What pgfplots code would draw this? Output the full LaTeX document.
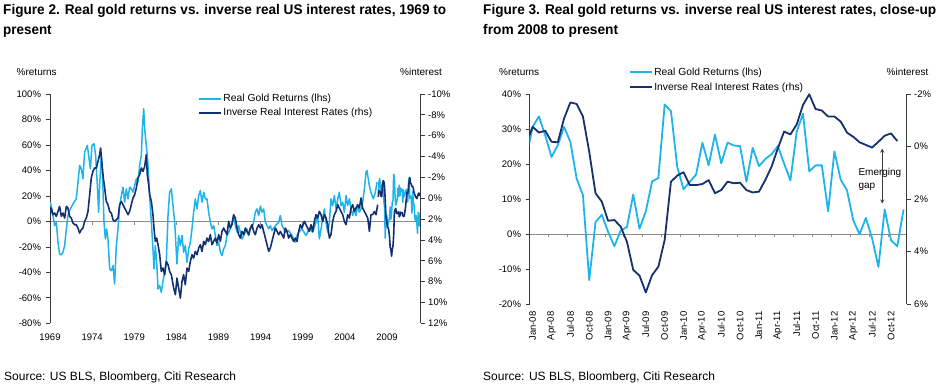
\documentclass[border=0pt]{standalone}
\usepackage{pgfplots}
\pgfplotsset{compat=1.18}
\usepackage{pgfplotstable}
\usepackage{fontspec}
\usepackage{graphicx}
\setmainfont{Liberation Sans}

\definecolor{goldc}{HTML}{1EB4EB}
\definecolor{ratec}{HTML}{15306E}
\definecolor{axgray}{HTML}{3A3A3A}
\definecolor{zerogray}{HTML}{8C8C8C}

% Real gold returns (%), 1969-2007 (lhs)
\pgfplotstableread{
year gold
1969.00 15.0
1969.08 13.8
1969.35 4.6
1969.55 -3.3
1969.75 -0.7
1969.95 -16.4
1970.14 -25.5
1970.34 -26.3
1970.54 -24.2
1970.74 -19.0
1970.94 -5.9
1971.13 4.6
1971.33 8.5
1971.73 13.8
1972.12 17.7
1972.32 30.8
1972.52 43.9
1972.72 41.3
1972.91 33.4
1973.11 54.4
1973.43 59.6
1973.59 51.7
1973.79 41.3
1973.98 59.6
1974.22 60.9
1974.42 51.7
1974.62 28.2
1974.77 7.2
1974.89 28.2
1975.09 51.7
1975.21 41.3
1975.41 -0.7
1975.57 -13.8
1975.72 -5.9
1975.88 -13.8
1976.08 -37.3
1976.28 -38.7
1976.48 -34.7
1976.67 -49.1
1976.87 -19.0
1977.07 -5.9
1977.27 12.4
1977.47 20.3
1977.66 26.9
1977.86 15.1
1978.06 25.5
1978.26 17.7
1978.45 26.9
1978.65 25.5
1978.85 22.9
1979.05 28.2
1979.25 33.4
1979.44 30.8
1979.64 43.9
1979.84 51.7
1979.96 72.7
1980.12 88.4
1980.24 72.7
1980.35 64.8
1980.51 54.4
1980.63 43.9
1980.83 20.3
1981.03 -0.7
1981.22 -21.6
1981.34 -37.3
1981.50 -19.0
1981.66 -32.1
1981.82 -53.1
1982.02 -50.5
1982.21 -55.7
1982.41 -47.0
1982.61 -40.0
1982.81 -30.0
1983.01 5.0
1983.20 22.9
1983.40 25.5
1983.80 -0.7
1984.07 -33.4
1984.27 -11.1
1984.47 -19.0
1984.67 -11.1
1984.86 -24.2
1985.06 -19.0
1985.26 -32.1
1985.46 -21.6
1985.66 -16.4
1985.85 -5.9
1986.05 7.2
1986.25 17.7
1986.45 9.8
1986.65 20.3
1986.84 24.2
1987.04 15.1
1987.24 22.9
1987.44 17.7
1987.63 17.7
1987.83 7.2
1988.03 -0.7
1988.23 -5.9
1988.43 -3.3
1988.62 -11.1
1988.82 -19.0
1989.02 -16.4
1989.22 -24.2
1989.42 -26.8
1989.61 -21.6
1989.81 -19.0
1990.01 -11.1
1990.21 -8.5
1990.40 -5.9
1990.60 -0.7
1990.80 4.6
1991.00 -3.3
1991.20 -8.5
1991.39 -3.3
1991.59 -8.5
1991.79 -13.8
1991.99 -11.1
1992.19 -8.5
1992.38 -5.9
1992.58 -11.1
1992.78 -5.9
1992.98 -4.6
1993.17 -0.7
1993.37 7.2
1993.57 9.8
1993.77 4.6
1993.97 12.0
1994.16 7.2
1994.36 9.8
1994.56 -0.7
1994.76 -3.3
1994.96 -5.9
1995.15 -3.3
1995.35 -7.2
1995.75 -3.3
1996.14 -0.7
1996.34 4.6
1996.54 -3.3
1996.93 -8.5
1997.33 -7.2
1997.72 -11.1
1998.12 -16.4
1998.32 -11.1
1998.52 -8.5
1998.91 -5.9
1999.39 -11.1
1999.78 -5.9
2000.18 -8.5
2000.57 -0.7
2000.77 4.6
2000.97 -13.8
2001.17 -5.9
2001.37 2.0
2001.56 9.8
2001.76 -0.7
2001.96 -8.5
2002.16 -0.7
2002.35 17.7
2002.55 12.4
2002.75 20.3
2002.95 9.8
2003.15 17.7
2003.34 22.9
2003.54 12.4
2003.74 15.1
2003.94 7.2
2004.14 20.3
2004.33 12.4
2004.53 17.7
2004.73 9.8
2004.93 4.6
2005.12 9.8
2005.32 4.6
2005.52 12.4
2005.72 7.2
2005.92 9.8
2006.11 15.1
2006.31 25.5
2006.51 38.7
2006.63 40.0
2006.83 30.8
2006.98 25.5
2007.22 20.3
2007.38 17.7
2007.62 22.9
2007.82 30.8
}\goldlong

% Real US interest rate (%), 1969-2007 (rhs, plotted inverted)
\pgfplotstableread{
year rate
1969.00 1.58
1969.16 0.94
1969.35 1.58
1969.55 1.42
1969.75 1.74
1969.95 1.26
1970.14 0.78
1970.34 1.74
1970.54 1.42
1970.74 1.90
1970.94 0.78
1971.13 0.94
1971.33 1.74
1971.53 1.90
1971.73 2.38
1971.93 2.54
1972.12 2.54
1972.32 2.86
1972.52 3.34
1972.72 3.02
1972.91 2.86
1973.11 2.22
1973.31 1.90
1973.51 1.26
1973.71 -0.34
1973.90 -1.94
1974.10 -2.58
1974.30 -2.90
1974.50 -2.90
1974.70 -3.54
1974.89 -4.18
1975.01 -4.82
1975.17 -3.22
1975.33 -1.94
1975.49 -0.98
1975.68 0.30
1975.88 0.62
1976.08 1.26
1976.28 1.42
1976.48 2.06
1976.67 2.22
1976.87 2.06
1977.07 1.90
1977.27 0.62
1977.47 0.30
1977.66 0.62
1977.86 0.94
1978.06 1.26
1978.26 1.58
1978.45 1.26
1978.65 0.62
1978.85 -0.02
1979.05 -0.34
1979.25 -0.98
1979.44 -1.94
1979.64 -2.26
1979.84 -2.90
1980.04 -2.58
1980.24 -3.06
1980.43 -4.18
1980.55 -2.26
1980.71 -1.30
1980.83 -0.34
1981.03 0.30
1981.22 1.58
1981.34 2.86
1981.50 4.14
1981.66 3.82
1981.82 4.46
1982.02 5.42
1982.21 7.02
1982.41 6.70
1982.61 7.34
1982.81 6.06
1983.01 6.38
1983.20 7.02
1983.40 7.34
1983.68 8.62
1983.88 9.26
1984.07 7.66
1984.27 8.62
1984.47 9.58
1984.67 7.98
1984.86 7.34
1985.06 8.30
1985.26 6.70
1985.46 7.02
1985.66 6.06
1985.85 5.42
1986.05 5.74
1986.25 5.10
1986.45 5.42
1986.65 4.78
1986.84 4.46
1987.04 5.10
1987.24 4.14
1987.44 4.46
1987.63 3.82
1987.83 4.14
1988.03 3.50
1988.23 4.46
1988.43 4.14
1988.62 3.82
1988.82 4.30
1989.02 3.50
1989.22 4.14
1989.42 3.18
1989.61 2.86
1989.81 3.18
1990.01 3.50
1990.21 2.22
1990.40 2.86
1990.60 2.54
1990.80 1.58
1991.00 1.90
1991.20 2.86
1991.39 3.50
1991.59 3.82
1991.79 3.18
1991.99 3.50
1992.19 2.86
1992.38 3.18
1992.58 3.50
1992.78 2.86
1992.98 2.54
1993.17 3.18
1993.37 3.50
1993.57 2.86
1993.77 2.54
1993.97 2.86
1994.16 2.54
1994.36 3.18
1994.56 3.82
1994.76 4.46
1994.96 5.10
1995.15 4.78
1995.35 4.14
1995.55 3.50
1995.75 2.86
1995.95 3.18
1996.14 3.50
1996.34 3.18
1996.54 3.50
1996.74 3.82
1996.93 2.86
1997.13 3.18
1997.33 3.82
1997.53 3.50
1997.72 3.82
1997.92 4.14
1998.12 3.82
1998.32 4.14
1998.52 3.18
1998.72 2.54
1998.91 2.86
1999.19 2.22
1999.39 2.54
1999.58 2.86
1999.78 3.18
1999.98 2.54
2000.18 3.18
2000.38 2.22
2000.57 1.58
2000.77 1.90
2000.97 1.26
2001.17 1.58
2001.37 2.22
2001.56 1.58
2001.76 1.90
2001.96 2.54
2002.16 3.82
2002.35 3.50
2002.55 2.22
2002.75 1.58
2002.95 1.26
2003.15 0.62
2003.34 0.94
2003.54 1.26
2003.74 1.58
2003.94 2.22
2004.14 2.54
2004.33 1.58
2004.53 1.90
2004.73 0.94
2004.93 0.62
2005.12 1.26
2005.32 0.94
2005.52 0.62
2005.72 0.94
2005.92 -0.02
2006.11 0.94
2006.31 1.26
2006.51 1.58
2006.71 1.90
2006.91 3.18
2007.10 1.58
2007.30 1.58
2007.50 1.26
2007.70 1.58
2007.89 0.62
}\ratelong

% Monthly close-up, k = months since Jan-08 (k=-1 is Dec-07, clipped)
\pgfplotstableread{
k gold rate
-1 22.0 -0.13
0 30.6 -0.75
1 33.6 -0.53
2 28.2 -0.60
3 22.0 -0.18
4 25.4 -0.16
5 30.6 -1.07
6 26.3 -1.68
7 15.8 -1.62
8 11.1 -1.14
9 -13.2 0.20
10 3.4 1.78
11 5.5 2.10
12 0.6 2.83
13 -3.5 2.80
14 1.0 3.05
15 2.0 3.63
16 11.3 4.70
17 1.5 4.92
18 6.5 5.56
19 15.0 4.90
20 16.0 4.58
21 37.0 3.56
22 35.1 1.34
23 19.2 1.11
24 12.8 0.98
25 14.9 1.47
26 17.0 1.47
27 26.1 1.43
28 19.6 1.28
29 28.4 1.78
30 20.2 1.66
31 26.1 1.34
32 25.3 1.40
33 25.1 1.38
34 14.9 1.66
35 24.6 1.75
36 19.4 1.72
37 21.4 1.28
38 22.8 0.77
39 25.1 0.07
40 20.1 -0.57
41 15.3 -0.46
42 29.2 -0.84
43 34.4 -1.58
44 17.9 -1.99
45 19.6 -1.43
46 19.6 -1.37
47 6.5 -1.14
48 23.6 -1.14
49 15.5 -0.95
50 12.5 -0.53
51 3.9 -0.37
52 -0.1 -0.16
53 4.6 -0.06
54 -1.3 0.04
55 -9.4 -0.18
56 7.0 -0.41
57 -1.8 -0.50
58 -3.5 -0.21
59 7.0 nan
}\closeup

\pgfplotsset{
  every axis/.append style={
    scale only axis,
    tick label style={font=\fontsize{9.5}{11}\selectfont},
    tick align=outside,
    major tick length=4pt,
    axis line style={-, draw=axgray, line width=0.7pt},
    tick style={draw=axgray, line width=0.7pt},
    legend cell align=left,
  },
  goldline/.style={color=goldc, line width=1.5pt, line join=round},
  rateline/.style={color=ratec, line width=1.6pt, line join=round},
  lgd/.style={
    legend style={draw=none, fill=none, font=\fontsize{10.3}{12}\selectfont,
      inner sep=0pt, nodes={inner sep=1pt}},
    legend image code/.code={\draw[##1, line width=2pt] (0pt,0pt) -- (22pt,0pt);},
  },
  zeroaxis/.style={
    axis x line=middle, axis y line=none,
    every inner x axis line/.append style={-},
    x axis line style={-, draw=zerogray, line width=0.8pt},
    xtick style={draw=zerogray, line width=0.7pt},
    major tick length=3.5pt, tick align=outside,
    xticklabels={}, ytick=\empty,
  },
}

\newcommand\ttl[2]{\resizebox{#1}{\height}{\fontsize{14}{16}\selectfont\bfseries #2}}

\begin{document}
\begin{tikzpicture}
\useasboundingbox (0pt,0pt) rectangle (941pt,387pt);

% ---------------- Titles and notes ----------------
\node[anchor=base west, inner sep=0] at (3pt,372.7pt) {\ttl{443pt}{Figure 2. Real gold returns vs. inverse real US interest rates, 1969 to}};
\node[anchor=base west, inner sep=0] at (3pt,352.3pt) {\ttl{48.5pt}{present}};
\node[anchor=base west, inner sep=0] at (483pt,372.7pt) {\ttl{453pt}{Figure 3. Real gold returns vs. inverse real US interest rates, close-up}};
\node[anchor=base west, inner sep=0] at (483pt,352.3pt) {\ttl{135pt}{from 2008 to present}};

\node[anchor=base west, inner sep=0] at (16.5pt,311.5pt) {\fontsize{10}{12}\selectfont\%returns};
\node[anchor=base west, inner sep=0] at (400pt,311.5pt) {\fontsize{10}{12}\selectfont\%interest};
\node[anchor=base west, inner sep=0] at (499pt,311.5pt) {\fontsize{10}{12}\selectfont\%returns};
\node[anchor=base west, inner sep=0] at (886.5pt,311.5pt) {\fontsize{10}{12}\selectfont\%interest};

\node[anchor=base west, inner sep=0] at (4pt,6.5pt) {\fontsize{12}{14}\selectfont Source: US BLS, Bloomberg, Citi Research};
\node[anchor=base west, inner sep=0] at (483pt,6.5pt) {\fontsize{12}{14}\selectfont Source: US BLS, Bloomberg, Citi Research};

% ---------------- Figure 2 ----------------
\begin{axis}[
  zeroaxis,
  at={(50pt,63.7pt)}, anchor=south west, width=370.7pt, height=229.3pt,
  xmin=1969, xmax=2013, ymin=-80, ymax=100,
  xtick={1974,1979,1984,1989,1994,1999,2004,2009},
]
\end{axis}

\begin{axis}[
  at={(50pt,63.7pt)}, anchor=south west, width=370.7pt, height=229.3pt,
  xmin=1969, xmax=2013, ymin=-80, ymax=100,
  axis y line*=left, axis x line*=bottom,
  x axis line style={draw=none}, xtick style={draw=none},
  xtick={1969,1974,1979,1984,1989,1994,1999,2004,2009},
  xticklabels={1969,1974,1979,1984,1989,1994,1999,2004,2009},
  xticklabel style={yshift=-3.5pt},
  ytick={-80,-60,-40,-20,0,20,40,60,80,100},
  yticklabels={-80\%,-60\%,-40\%,-20\%,0\%,20\%,40\%,60\%,80\%,100\%},
  yticklabel style={xshift=-1.5pt},
]
\addplot[goldline] table[x=year, y=gold] {\goldlong};
\addplot[goldline] table[x expr=2008+(\thisrow{k}+0.5)/12, y=gold] {\closeup};
\end{axis}

\begin{axis}[
  lgd,
  at={(50pt,63.7pt)}, anchor=south west, width=370.7pt, height=229.3pt,
  xmin=1969, xmax=2013, ymin=-10, ymax=12, y dir=reverse,
  hide x axis, axis y line*=right,
  ytick={-10,-8,-6,-4,-2,0,2,4,6,8,10,12},
  yticklabels={-10\%,-8\%,-6\%,-4\%,-2\%,0\%,2\%,4\%,6\%,8\%,10\%,12\%},
  legend style={at={(0.400,1.003)}, anchor=north west, row sep=3pt},
]
\addlegendimage{goldline}
\addlegendentry{Real Gold Returns (lhs)}
\addplot[rateline] table[x=year, y=rate] {\ratelong};
\addlegendentry{Inverse Real Interest Rates (rhs)}
\addplot[rateline, forget plot] table[x expr=2008+(\thisrow{k}+0.5)/12, y=rate] {\closeup};
\end{axis}

% ---------------- Figure 3 ----------------
\begin{axis}[
  zeroaxis,
  at={(529.5pt,83pt)}, anchor=south west, width=377.2pt, height=210pt,
  xmin=0, xmax=60, ymin=-20, ymax=40,
  xtick={3,6,...,57},
]
\end{axis}

\begin{axis}[
  at={(529.5pt,83pt)}, anchor=south west, width=377.2pt, height=210pt,
  xmin=0, xmax=60, ymin=-20, ymax=40,
  axis y line*=left, axis x line*=bottom,
  x axis line style={draw=none}, xtick style={draw=none},
  xtick={0.5,3.5,...,57.5},
  xticklabels={Jan-08,Apr-08,Jul-08,Oct-08,Jan-09,Apr-09,Jul-09,Oct-09,Jan-10,Apr-10,Jul-10,Oct-10,Jan-11,Apr-11,Jul-11,Oct-11,Jan-12,Apr-12,Jul-12,Oct-12},
  xticklabel style={rotate=90, anchor=east},
  ytick={-20,-10,0,10,20,30,40},
  yticklabels={-20\%,-10\%,0\%,10\%,20\%,30\%,40\%},
  yticklabel style={xshift=-1pt},
]
\addplot[goldline, line width=1.8pt] table[x expr=\thisrow{k}+0.5, y=gold] {\closeup};
\draw[<->, >=stealth, axgray, line width=0.8pt] (axis cs:56.1,24.4) -- (axis cs:56.1,8.7);
\node[anchor=west, align=left, inner sep=0, font=\fontsize{10}{13}\selectfont] at (axis cs:52.3,15.6) {Emerging\\gap};
\end{axis}

\begin{axis}[
  lgd,
  at={(529.5pt,83pt)}, anchor=south west, width=377.2pt, height=210pt,
  xmin=0, xmax=60, ymin=-2, ymax=6, y dir=reverse,
  hide x axis, axis y line*=right,
  ytick={-2,0,2,4,6},
  yticklabels={-2\%,0\%,2\%,4\%,6\%},
  legend style={at={(0.264,1.130)}, anchor=north west, row sep=3.8pt},
]
\addlegendimage{goldline}
\addlegendentry{Real Gold Returns (lhs)}
\addplot[rateline, line width=1.8pt] table[x expr=\thisrow{k}+0.5, y=rate] {\closeup};
\addlegendentry{Inverse Real Interest Rates (rhs)}
\end{axis}
\end{tikzpicture}
\end{document}
